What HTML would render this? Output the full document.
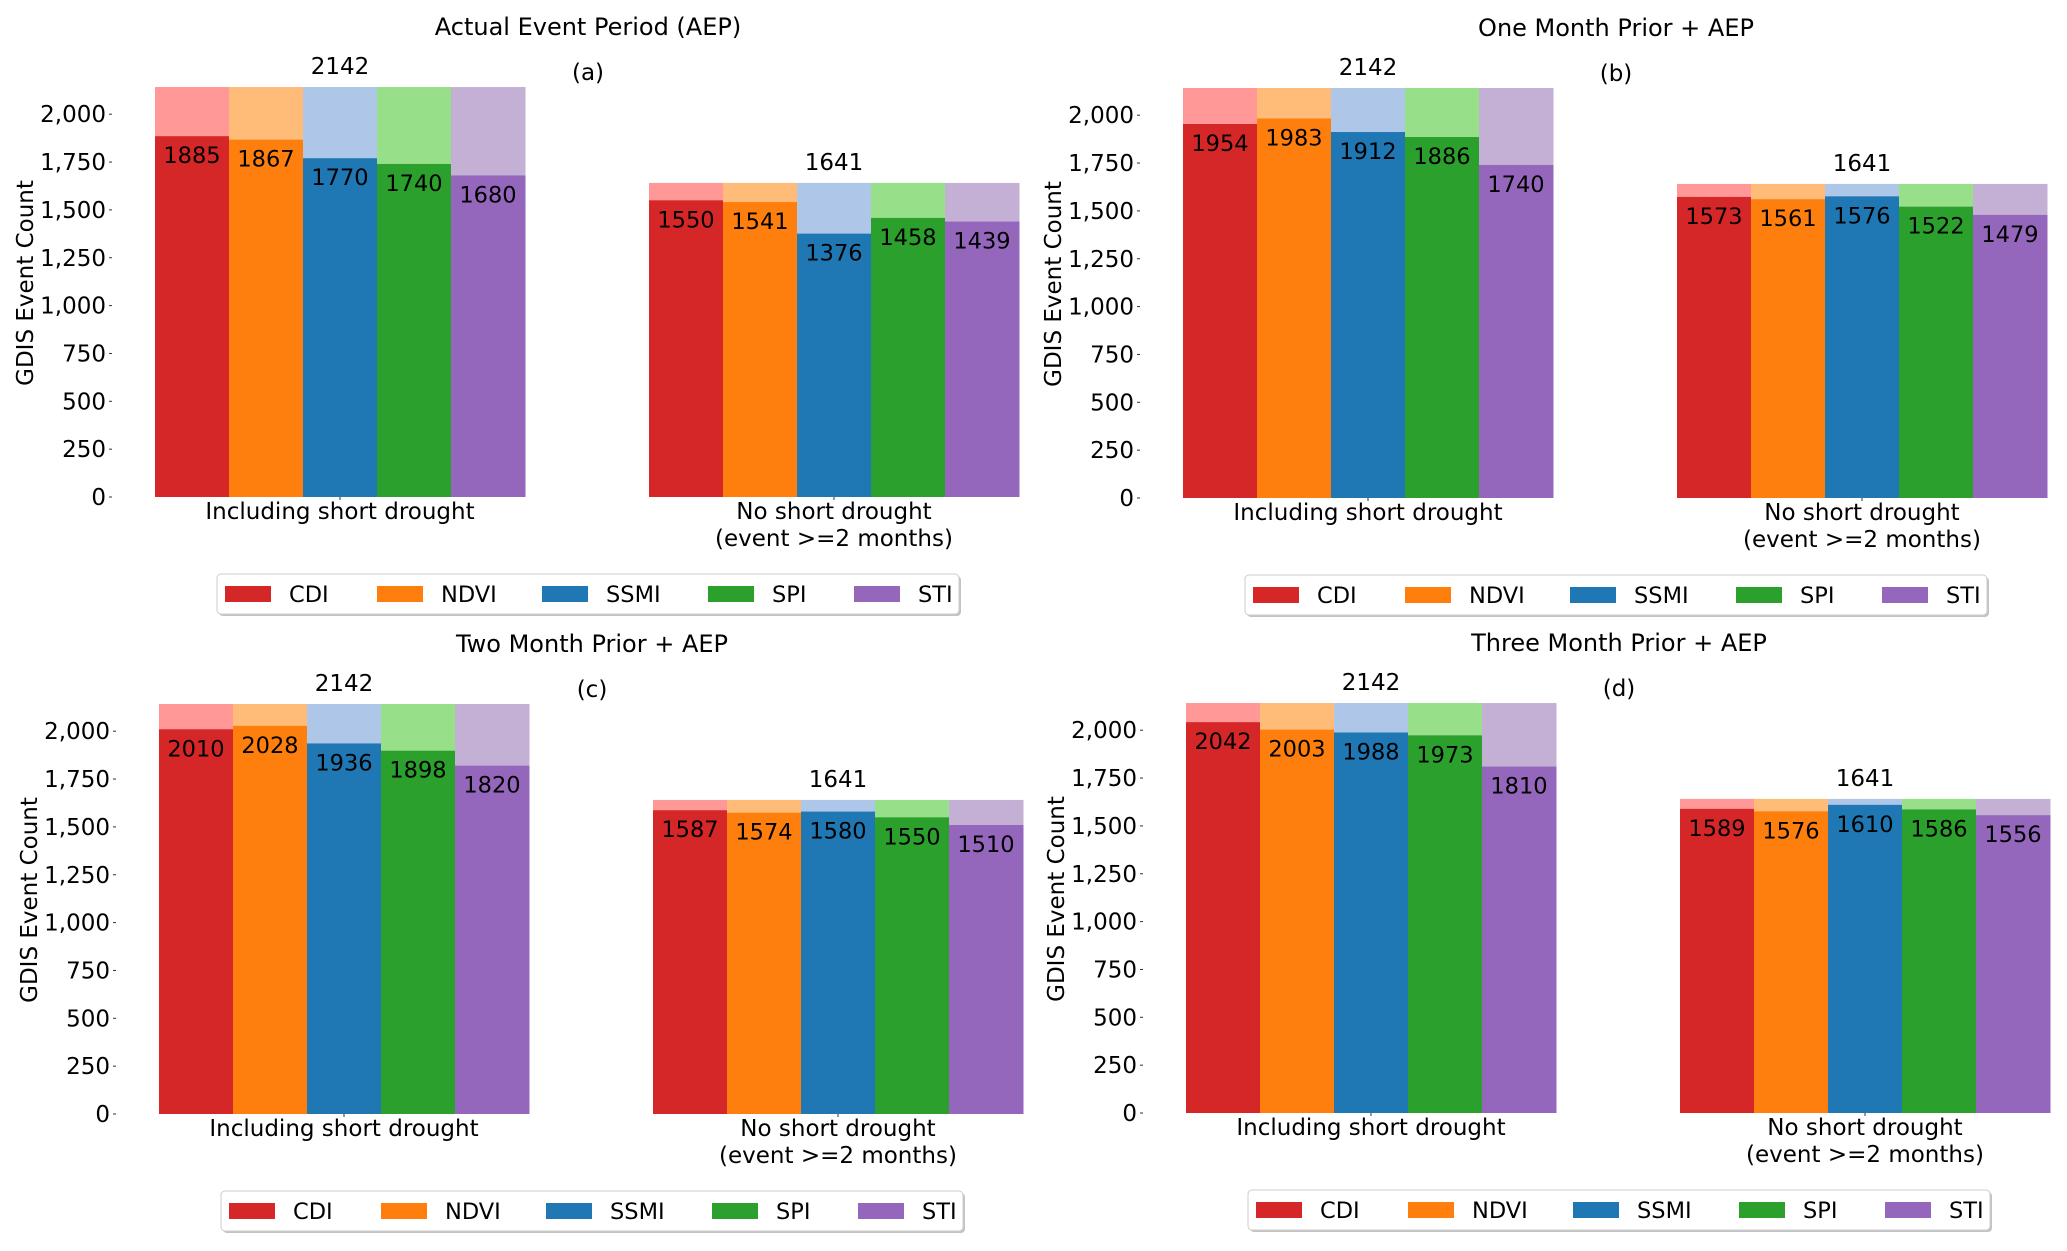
<!DOCTYPE html>
<html><head><meta charset="utf-8"><style>
body{margin:0;background:#fff;}
svg{display:block;font-family:"DejaVu Sans","Liberation Sans",sans-serif;}
</style></head><body>
<svg id="fig" width="2067" height="1251" viewBox="0 0 2067 1251"></svg>
<script>
const indices = ["CDI","NDVI","SSMI","SPI","STI"];
const groups = ["Including short drought","No short drought"];
const totals = [2142,1641];
const titles = ["Actual Event Period (AEP)","One Month Prior + AEP","Two Month Prior + AEP","Three Month Prior + AEP"];
const letters = ["(a)","(b)","(c)","(d)"];
const aIncl = [1885,1867,1770,1740,1680];
const aNo = [1550,1541,1376,1458,1439];
const bIncl = [1954,1983,1912,1886,1740];
const bNo = [1573,1561,1576,1522,1479];
const cIncl = [2010,2028,1936,1898,1820];
const cNo = [1587,1574,1580,1550,1510];
const dIncl = [2042,2003,1988,1973,1810];
const dNo = [1589,1576,1610,1586,1556];
const yTicks = [0,250,500,750,1000,1250,1500,1750,2000];
const tickLabels = ["0","250","500","750","1,000","1,250","1,500","1,750","2,000"];

const panelData = [[aIncl,aNo],[bIncl,bNo],[cIncl,cNo],[dIncl,dNo]];
const offsets = [[0,0],[1028,1],[4,617],[1031,616]];
const dark = ["#d62728","#ff7f0e","#1f77b4","#2ca02c","#9467bd"];
const light = ["#ff9896","#ffbb78","#aec7e8","#98df8a","#c5b0d5"];
const NS = "http://www.w3.org/2000/svg";
const fig = document.getElementById('fig');
function mk(tag, attrs, parent, text){
  const e = document.createElementNS(NS, tag);
  for (const k in attrs) e.setAttribute(k, attrs[k]);
  if (text !== undefined) e.textContent = text;
  parent.appendChild(e);
  return e;
}
const base = 497, scale = 0.1914, barW = 74, groupLeft = [155, 649];
function yS(v){ return base - v*scale; }

panelData.forEach((pd, p) => {
  const [ox, oy] = offsets[p];
  const g = mk('g', {transform:`translate(${ox},${oy})`}, fig);
  
  
  const t = mk('text', {x:588, y:35, 'text-anchor':'middle', 'font-size':24}, g, titles[p]);
  
  
  const l = mk('text', {x:588, y:80, 'text-anchor':'middle', 'font-size':23}, g, letters[p]);
  
  
  const yt = mk('text', {transform:`translate(33,${base-214}) rotate(-90)`, 'text-anchor':'middle', 'font-size':23}, g, 'GDIS Event Count');
  
  
  yTicks.forEach((v, i) => {
    const tl = mk('text', {x:106, y:yS(v)+8, 'text-anchor':'end', 'font-size':23}, g, tickLabels[i]);
    
    
    mk('line', {x1:109, x2:112, y1:yS(v), y2:yS(v), stroke:'#333', 'stroke-width':1}, g);
  });
  pd.forEach((vals, gi) => {
    const gx = groupLeft[gi];
    const cx = gx + barW*2.5;
    vals.forEach((v, i) => {
      const bx = gx + i*barW;
      const tb = mk('rect', {x:bx, y:yS(totals[gi]), width:barW+0.5, height:totals[gi]*scale, fill:light[i]}, g);
      
      
      const b = mk('rect', {x:bx, y:yS(v), width:barW+0.5, height:v*scale, fill:dark[i]}, g);
      
      
      const vl = mk('text', {x:bx+barW/2, y:yS(v)+27, 'text-anchor':'middle', 'font-size':22.5}, g, String(v));
      
      
    });
    const tt = mk('text', {x:cx, y:yS(totals[gi])-13, 'text-anchor':'middle', 'font-size':23}, g, String(totals[gi]));
    
    
    mk('line', {x1:cx, x2:cx, y1:base, y2:base+3, stroke:'#333'}, g);
    const xl = mk('text', {x:cx, y:base+22, 'text-anchor':'middle', 'font-size':23}, g, groups[gi]);
    
    
    if (gi === 1) {
      const xl2 = mk('text', {x:cx, y:base+49, 'text-anchor':'middle', 'font-size':23}, g, '(event >=2 months)');
      
      
    }
  });
  const lg = mk('g', {}, g);
  
  
  mk('rect', {x:219, y:576, width:742, height:40, rx:4, fill:'#888', opacity:0.5}, lg);
  mk('rect', {x:217, y:574, width:742, height:40, rx:4, fill:'#fff', stroke:'#ccc'}, lg);
  const px = [225,377,542,708,854];
  indices.forEach((n, i) => {
    const e = mk('g', {}, lg);
    
    
    mk('rect', {x:px[i], y:586, width:46, height:16, fill:dark[i]}, e);
    mk('text', {x:px[i]+64, y:602, 'font-size':22.5}, e, n);
  });
});
</script>
</body></html>
